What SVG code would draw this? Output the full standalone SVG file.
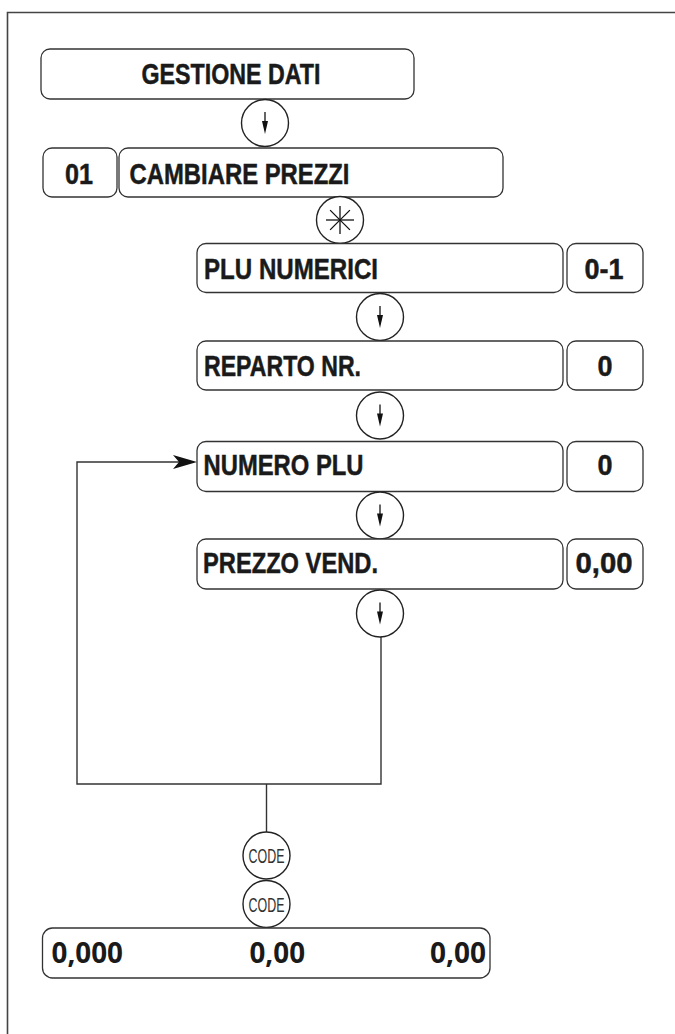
<svg xmlns="http://www.w3.org/2000/svg" xmlns:xlink="http://www.w3.org/1999/xlink" width="675" height="1034" viewBox="0 0 675 1034">
<style>
.box{fill:#fff;stroke:#333;stroke-width:1.3}
.key{fill:#fff;stroke:#222;stroke-width:1.4}
.t{font-family:"Liberation Sans",Arial,sans-serif;font-weight:bold;font-size:30px;fill:#1a1a1a;stroke:#1a1a1a;stroke-width:0.5}
.v{font-family:"Open Sans","Liberation Sans",sans-serif;font-weight:bold;font-size:28px;fill:#1a1a1a}
.code{font-family:"Liberation Sans",Arial,sans-serif;font-size:21px;fill:#333}
.ln{fill:none;stroke:#333;stroke-width:1.4}
</style>
<defs>
<g id="downKey">
<circle class="key" cx="0" cy="0" r="23.5"/>
<line x1="0" y1="-11" x2="0" y2="0" stroke="#111" stroke-width="1.3"/>
<polygon points="-3,-2 3,-2 0,11" fill="#111"/>
</g>
<g id="codeKey">
<circle class="key" cx="0" cy="0" r="23.5"/>
<text class="code" x="0" y="7.5" text-anchor="middle" textLength="36" lengthAdjust="spacingAndGlyphs">CODE</text>
</g>
</defs>
<rect width="675" height="1034" fill="#fff"/>
<path d="M7.5,1034 V12.5 H675" fill="none" stroke="#444" stroke-width="1.6"/>

<g id="connectors">
<path class="ln" d="M381,637 V784 H77 V462 H180"/>
<polygon points="197,462 173,455 179,462 173,469" fill="#111"/>
<line class="ln" x1="266.5" y1="784" x2="266.5" y2="832"/>
</g>

<g id="gestione-dati">
<rect class="box" x="41" y="49" width="373" height="50" rx="9"/>
<text class="t" x="141.5" y="83.5" textLength="179" lengthAdjust="spacingAndGlyphs">GESTIONE DATI</text>
</g>
<g id="key-down-1"><use xlink:href="#downKey" transform="translate(265,123)"/></g>
<g id="code-01">
<rect class="box" x="43" y="148" width="74" height="49" rx="9"/>
<text class="t" x="79" y="184" text-anchor="middle" textLength="28" lengthAdjust="spacingAndGlyphs">01</text>
</g>
<g id="cambiare-prezzi">
<rect class="box" x="119" y="148" width="384" height="49" rx="9"/>
<text class="t" x="129.5" y="184" textLength="220" lengthAdjust="spacingAndGlyphs">CAMBIARE PREZZI</text>
</g>
<g id="key-star">
<circle class="key" cx="340" cy="220" r="23.5"/>
<g stroke="#111" stroke-width="1.3">
<line x1="340" y1="206" x2="340" y2="234"/>
<line x1="326" y1="220" x2="354" y2="220"/>
<line x1="330.1" y1="210.1" x2="349.9" y2="229.9"/>
<line x1="330.1" y1="229.9" x2="349.9" y2="210.1"/>
</g>
</g>
<g id="plu-numerici">
<rect class="box" x="197" y="243.5" width="366" height="49" rx="9"/>
<text class="t" x="204" y="278.5" textLength="174" lengthAdjust="spacingAndGlyphs">PLU NUMERICI</text>
</g>
<g id="plu-numerici-val">
<rect class="box" x="567" y="243.5" width="76" height="49" rx="9"/>
<text class="t" x="604" y="278.5" text-anchor="middle" textLength="39" lengthAdjust="spacingAndGlyphs">0-1</text>
</g>
<g id="key-down-2"><use xlink:href="#downKey" transform="translate(380,317)"/></g>
<g id="reparto-nr">
<rect class="box" x="197" y="341" width="366" height="49" rx="9"/>
<text class="t" x="204" y="375.5" textLength="157" lengthAdjust="spacingAndGlyphs">REPARTO NR.</text>
</g>
<g id="reparto-nr-val">
<rect class="box" x="567" y="341" width="76" height="49" rx="9"/>
<text class="t" x="605" y="375.5" text-anchor="middle" textLength="15" lengthAdjust="spacingAndGlyphs">0</text>
</g>
<g id="key-down-3"><use xlink:href="#downKey" transform="translate(380,415.5)"/></g>
<g id="numero-plu">
<rect class="box" x="197" y="441.5" width="366" height="50" rx="9"/>
<text class="t" x="203.5" y="474.5" textLength="160" lengthAdjust="spacingAndGlyphs">NUMERO PLU</text>
</g>
<g id="numero-plu-val">
<rect class="box" x="567" y="441.5" width="76" height="50" rx="9"/>
<text class="t" x="605" y="474.5" text-anchor="middle" textLength="15" lengthAdjust="spacingAndGlyphs">0</text>
</g>
<g id="key-down-4"><use xlink:href="#downKey" transform="translate(380,515.5)"/></g>
<g id="prezzo-vend">
<rect class="box" x="197" y="539" width="366" height="50" rx="9"/>
<text class="t" x="203" y="573" textLength="175" lengthAdjust="spacingAndGlyphs">PREZZO VEND.</text>
</g>
<g id="prezzo-vend-val">
<rect class="box" x="567" y="539" width="76" height="50" rx="9"/>
<text class="t" x="604" y="573" text-anchor="middle" textLength="57" lengthAdjust="spacingAndGlyphs">0,00</text>
</g>
<g id="key-down-5"><use xlink:href="#downKey" transform="translate(380,613.5)"/></g>
<g id="key-code-1"><use xlink:href="#codeKey" transform="translate(266.5,855.5)"/></g>
<g id="key-code-2"><use xlink:href="#codeKey" transform="translate(266.5,904)"/></g>
<g id="display">
<rect class="box" x="42.5" y="928" width="447.5" height="50" rx="10"/>
<text class="v" x="51.5" y="962.5" textLength="71.5" lengthAdjust="spacingAndGlyphs">0,000</text>
<text class="v" x="249.5" y="962.5" textLength="55.5" lengthAdjust="spacingAndGlyphs">0,00</text>
<text class="v" x="430" y="962.5" textLength="56" lengthAdjust="spacingAndGlyphs">0,00</text>
</g>
</svg>
